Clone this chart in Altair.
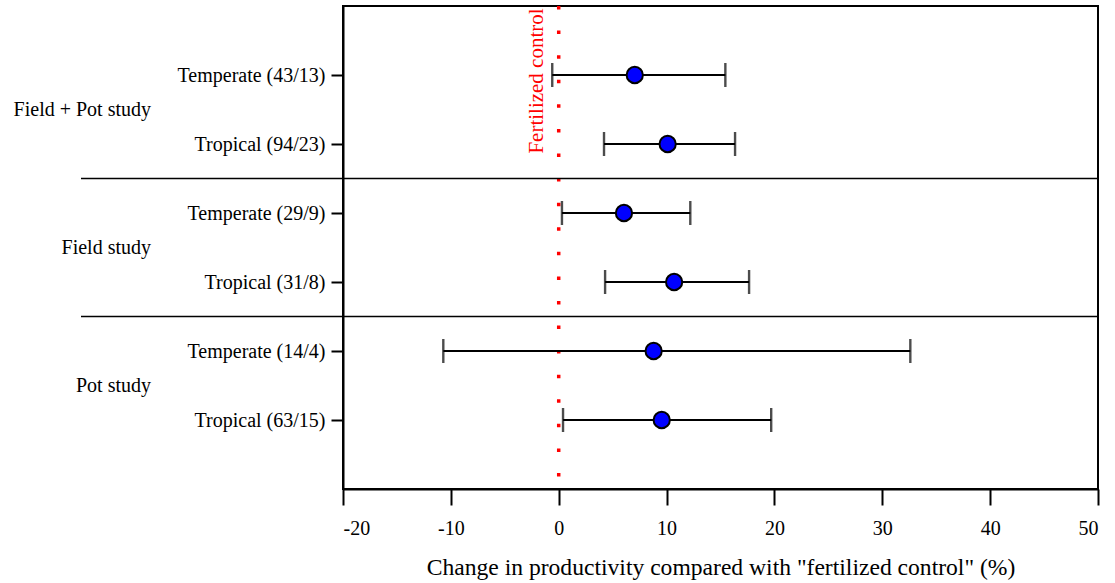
import altair as alt
import pandas as pd

# ---- data ----
row_labels = ["Temperate (43/13)", "Tropical (94/23)", "Temperate (29/9)",
              "Tropical (31/8)", "Temperate (14/4)", "Tropical (63/15)"]
row_pos = [1, 2, 3, 4, 5, 6]
means = [7.05, 10.1, 6.05, 10.7, 8.8, 9.55]
lower = [-0.6, 4.2, 0.3, 4.3, -10.7, 0.4]
upper = [15.45, 16.35, 12.2, 17.65, 32.6, 19.7]

group_labels = ["Field + Pot study", "Field study", "Pot study"]
group_pos = [1.5, 3.5, 5.5]
separator_pos = [2.5, 4.5]

x_ticks = [-20, -10, 0, 10, 20, 30, 40, 50]
x_title = 'Change in productivity compared with "fertilized control" (%)'
ref_label = "Fertilized control"

FONT = "Liberation Serif"
W, H = 755, 483

df = pd.DataFrame({"pos": row_pos, "label": row_labels, "mean": means,
                   "lo": lower, "hi": upper})
gdf = pd.DataFrame({"pos": group_pos, "label": group_labels})
sdf = pd.DataFrame({"pos": separator_pos})
zdf = pd.DataFrame({"x": [0]})

label_expr = "{" + ",".join(f"'{p}':'{l}'" for p, l in zip(row_pos, row_labels)) + "}[datum.value]"

xscale = alt.Scale(domain=[-20, 50], nice=False, zero=False)
yscale = alt.Scale(domain=[0, 7], reverse=True, nice=False, zero=False)

x_axis = alt.Axis(values=x_ticks, title=x_title, grid=False, tickSize=16,
                  tickWidth=2, tickColor="black", domainColor="black", domainWidth=2,
                  labelExpr="'' + datum.value",
                  labelFont=FONT, labelFontSize=20, labelColor="black", labelPadding=13,
                  titleFont=FONT, titleFontSize=23.6, titleFontWeight="normal",
                  titleColor="black", titlePadding=17)
y_axis = alt.Axis(values=row_pos, labelExpr=label_expr, title=None, grid=False,
                  tickSize=12, tickWidth=2, tickColor="black", domainColor="black",
                  domainWidth=2, labelFont=FONT, labelFontSize=20, labelColor="black",
                  labelPadding=6)

base = alt.Chart(df)

zero_line = alt.Chart(zdf).mark_rule(color="red", strokeWidth=3.5,
                                     strokeDash=[3.5, 21.08]).encode(
    x=alt.X("x:Q", scale=xscale, axis=x_axis),
    y=alt.value(0), y2=alt.value(H))

ref_text = alt.Chart(zdf).mark_text(text=ref_label, angle=270, color="red",
                                    font=FONT, fontSize=21, align="center",
                                    baseline="middle").encode(
    x=alt.value(193.5), y=alt.value(75))

seps = alt.Chart(sdf).mark_rule(color="black", strokeWidth=1.5).encode(
    y=alt.Y("pos:Q", scale=yscale, axis=y_axis),
    x=alt.value(-262), x2=alt.value(W))

groups = alt.Chart(gdf).mark_text(align="right", baseline="middle", font=FONT,
                                  fontSize=20, color="black").encode(
    y=alt.Y("pos:Q", scale=yscale), x=alt.value(-192), text="label:N")

bars = base.mark_rule(color="black", strokeWidth=2.2).encode(
    x=alt.X("lo:Q", scale=xscale), x2="hi:Q",
    y=alt.Y("pos:Q", scale=yscale))

cap_lo = base.mark_tick(color="black", thickness=2.4, size=24, orient="vertical").encode(
    x=alt.X("lo:Q", scale=xscale), y=alt.Y("pos:Q", scale=yscale))
cap_hi = base.mark_tick(color="black", thickness=2.4, size=24, orient="vertical").encode(
    x=alt.X("hi:Q", scale=xscale), y=alt.Y("pos:Q", scale=yscale))

points = base.mark_point(shape="circle", filled=True, fill="blue", stroke="black",
                         strokeWidth=2, size=265, opacity=1).encode(
    x=alt.X("mean:Q", scale=xscale), y=alt.Y("pos:Q", scale=yscale))

chart = alt.layer(zero_line, ref_text, seps, groups, bars, cap_lo, cap_hi, points).properties(
    width=W, height=H,
    autosize=alt.AutoSizeParams(type="none"),
    padding={"left": 343, "top": 6, "right": 17, "bottom": 94},
    background="white",
).configure_view(stroke="black", strokeWidth=2)

chart.save("out.html", embed_options={"renderer": "svg", "actions": False})
